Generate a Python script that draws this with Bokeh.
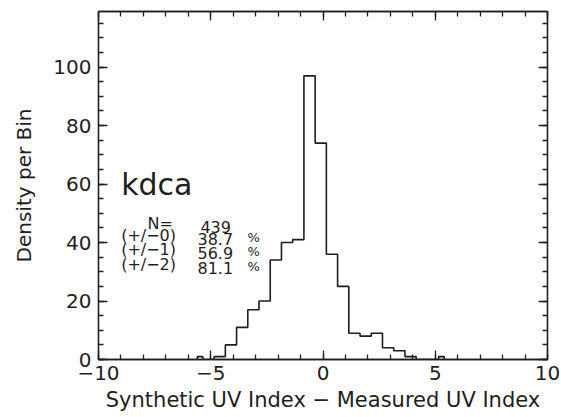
from bokeh.plotting import figure
from bokeh.models import Range1d, LinearAxis, SingleIntervalTicker, Label
from bokeh.embed import file_html
from bokeh.resources import INLINE

# ---------------- data ----------------
station = "kdca"
bin_width = 0.5
bin_centers = [-5.6, -5.1, -4.6, -4.1, -3.6, -3.1, -2.6, -2.1, -1.6, -1.1, -0.6,
               -0.1, 0.4, 0.9, 1.4, 1.9, 2.4, 2.9, 3.4, 3.9, 4.4, 4.9, 5.4]
counts = [1, 0, 1, 5, 11, 17, 20, 34, 40, 41, 97,
          74, 36, 25, 9, 8, 9, 4, 3, 1, 0, 0, 1]
n_total = 439
stat_labels = ["(+/\u22120)", "(+/\u22121)", "(+/\u22122)"]
stat_values = [38.7, 56.9, 81.1]
x_ticks = [-10, -5, 0, 5, 10]
x_tick_labels = ["\u221210", "\u22125", "0", "5", "10"]

# ------------- step path (IDL psym=10 style) -------------
half = bin_width / 2.0
xs = [bin_centers[0]]
ys = [0]
last = len(bin_centers) - 1
for i, (c, n) in enumerate(zip(bin_centers, counts)):
    left = c - half if i > 0 else c
    right = c + half if i < last else c
    xs += [left, right]
    ys += [n, n]
xs.append(bin_centers[-1])
ys.append(0)

INK = "#1e1e1e"
FONT = "DejaVu Sans"

p = figure(width=561, height=417, output_backend="svg", toolbar_location=None,
           x_range=Range1d(-10, 10), y_range=Range1d(0, 119),
           min_border_left=98, min_border_right=14, min_border_top=11,
           min_border_bottom=58, background_fill_color="white",
           border_fill_color="white")
p.xgrid.visible = False
p.ygrid.visible = False
p.outline_line_color = INK
p.outline_line_width = 1.3

p.line(xs, ys, line_color=INK, line_width=1.6)

xt = SingleIntervalTicker(interval=5, num_minor_ticks=5)
yt = SingleIntervalTicker(interval=20, num_minor_ticks=4)


def style_axis(ax, ticker, show_labels):
    ax.ticker = ticker
    ax.axis_line_color = INK
    ax.axis_line_width = 1.3
    ax.major_tick_line_color = INK
    ax.minor_tick_line_color = INK
    ax.major_tick_line_width = 1.3
    ax.minor_tick_line_width = 1.3
    ax.major_tick_in = 9
    ax.major_tick_out = 0
    ax.minor_tick_in = 5
    ax.minor_tick_out = 0
    ax.major_label_text_font = FONT
    ax.major_label_text_color = INK
    ax.axis_label_text_font = FONT
    ax.axis_label_text_color = INK
    ax.axis_label_text_font_style = "normal"
    if show_labels:
        ax.major_label_text_font_size = "20px"
        ax.axis_label_text_font_size = "20px"
    else:
        ax.major_label_text_font_size = "0px"
        ax.major_label_standoff = 0
        ax.major_label_text_alpha = 0


xa = p.xaxis[0]
ya = p.yaxis[0]
style_axis(xa, xt, True)
style_axis(ya, yt, True)
xa.axis_label_text_font_size = "21px"
xa.major_label_overrides = {t: s for t, s in zip(x_ticks, x_tick_labels)}
xa.axis_label = "Synthetic UV Index \u2212 Measured UV Index"
ya.axis_label = "Density per Bin"
xa.major_label_standoff = 6
xa.axis_label_standoff = 5
ya.major_label_standoff = 7
ya.axis_label_standoff = 14

top_ax = LinearAxis()
right_ax = LinearAxis()
style_axis(top_ax, SingleIntervalTicker(interval=5, num_minor_ticks=5), False)
style_axis(right_ax, SingleIntervalTicker(interval=20, num_minor_ticks=4), False)
p.add_layout(top_ax, "above")
p.add_layout(right_ax, "right")

# ---------------- annotation text ----------------
p.add_layout(Label(x=-8.99, y=54.0, text=station, text_font=FONT,
                   text_font_size="30px", text_color=INK))
p.add_layout(Label(x=-7.82, y=43.4, text="N=", text_font=FONT,
                   text_font_size="16px", text_color=INK))
p.add_layout(Label(x=-5.46, y=43.4, text=str(n_total), text_font=FONT,
                   text_font_size="16px", text_color=INK))
line_y = [39.3, 34.5, 29.4]
for lab, val, yy in zip(stat_labels, stat_values, line_y):
    p.add_layout(Label(x=-8.99, y=yy, text=lab, text_font=FONT,
                       text_font_size="16px", text_color=INK))
    p.add_layout(Label(x=-5.59, y=yy, text=f"{val:.1f}", text_font=FONT,
                       text_font_size="16px", text_color=INK))
    p.add_layout(Label(x=-3.36, y=yy, text="%", text_font=FONT,
                       text_font_size="13px", text_color=INK))

open("out.html", "w").write(file_html(p, INLINE))
